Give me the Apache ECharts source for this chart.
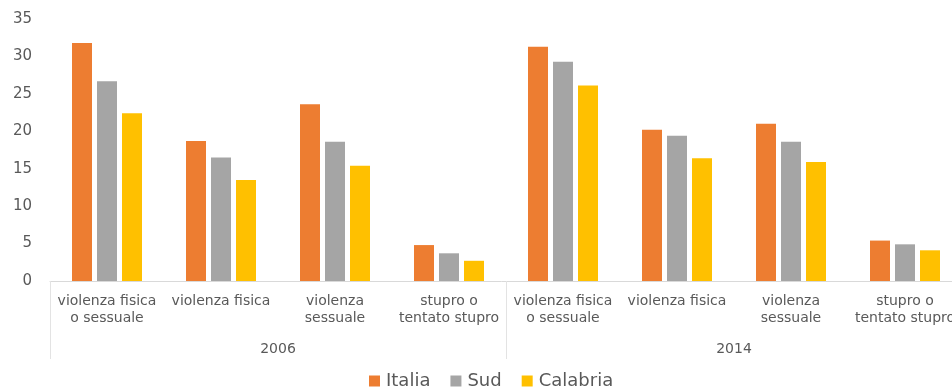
<!DOCTYPE html>
<html>
<head>
<meta charset="utf-8">
<script src="https://cdn.jsdelivr.net/npm/echarts@6/dist/echarts.min.js"></script>
<style>
html,body{margin:0;padding:0;background:#fff;}
#chart{width:952px;height:387px;}
</style>
</head>
<body>
<div id="chart"></div>
<script>
const categories = ["violenza fisica\no sessuale", "violenza fisica", "violenza\nsessuale", "stupro o\ntentato stupro",
                    "violenza fisica\no sessuale", "violenza fisica", "violenza\nsessuale", "stupro o\ntentato stupro"];
const years = ["2006", "2014"];
const seriesNames = ["Italia", "Sud", "Calabria"];
const italia   = [31.8, 18.7, 23.6, 4.8, 31.3, 20.2, 21.0, 5.4];
const sud      = [26.7, 16.5, 18.6, 3.7, 29.3, 19.4, 18.6, 4.9];
const calabria = [22.4, 13.5, 15.4, 2.7, 26.1, 16.4, 15.9, 4.1];
const yTicks = [0, 5, 10, 15, 20, 25, 30, 35];

const colors = ["#ED7D31", "#A5A5A5", "#FFC000"];
const font = "'DejaVu Sans', sans-serif";
const chart = echarts.init(document.getElementById('chart'));
const allData = [italia, sud, calabria];
chart.setOption({
  animation: false,
  textStyle: {fontFamily: font},
  grid: {left: 50, width: 912, top: 19, bottom: 106, containLabel: false, outerBoundsMode: 'none'},
  legend: {
    data: seriesNames, top: 372, left: 369, padding: 0,
    itemWidth: 11, itemHeight: 11, itemGap: 20, icon: 'rect',
    textStyle: {fontFamily: font, fontSize: 18, color: '#595959', padding: [0, 0, 0, 1]}
  },
  xAxis: [{
    type: 'category', data: categories, position: 'bottom',
    axisLine: {lineStyle: {color: '#d9d9d9', width: 1}},
    axisTick: {show: false},
    axisLabel: {interval: 0, color: '#595959', fontSize: 14, lineHeight: 17, margin: 12, fontFamily: font}
  }, {
    type: 'category', data: years, position: 'bottom',
    axisLine: {show: false},
    axisTick: {show: true, length: 78, lineStyle: {color: '#e3e3e3', width: 1}},
    axisLabel: {color: '#595959', fontSize: 14, margin: 61, fontFamily: font}
  }],
  yAxis: {
    type: 'value', min: yTicks[0], max: yTicks[yTicks.length - 1], interval: 5,
    axisLine: {show: false}, axisTick: {show: false}, splitLine: {show: false},
    axisLabel: {color: '#595959', fontSize: 15, margin: 18, fontFamily: font}
  },
  series: seriesNames.map((n, i) => ({
    name: n, type: 'bar', data: allData[i], xAxisIndex: 0,
    barWidth: 20, barGap: '25%',
    itemStyle: {color: colors[i]}
  }))
});
</script>
</body>
</html>
